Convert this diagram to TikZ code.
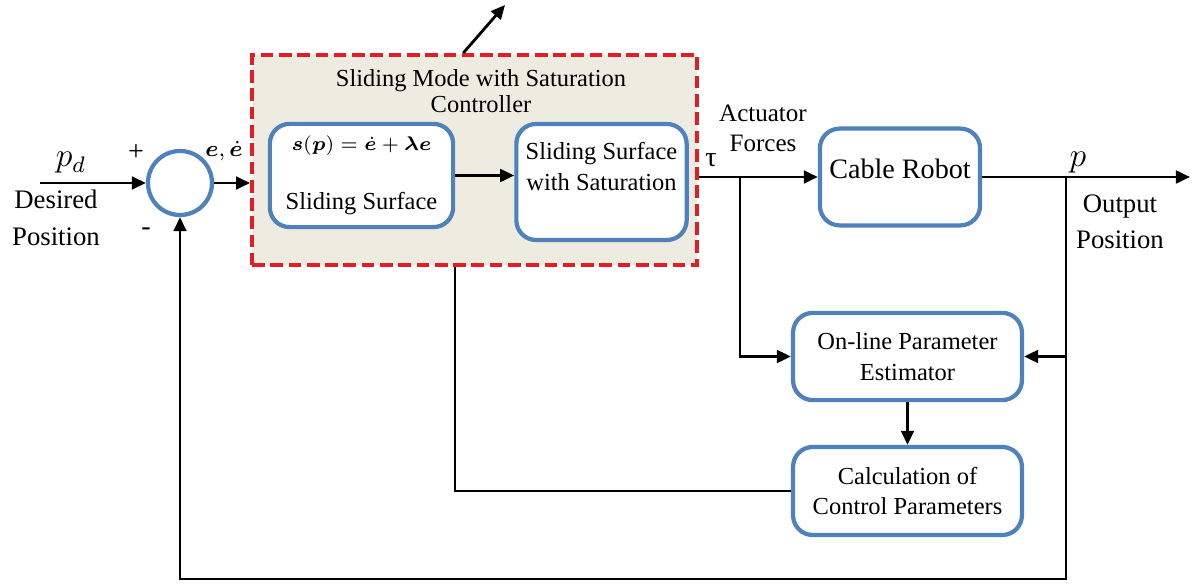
\documentclass[tikz,border=0pt]{standalone}
\usepackage{fontspec}
\setmainfont{Liberation Serif}
\usepackage{amsmath,bm}
\usetikzlibrary{arrows.meta}
\definecolor{boxblue}{RGB}{79,129,189}
\definecolor{ctrlred}{RGB}{225,30,35}
\definecolor{ctrlfill}{RGB}{238,236,225}
\tikzset{
  blk/.style={draw=boxblue,line width=1.5pt,rounded corners=7pt,fill=white,align=center,
    font=\fontsize{8.7}{11}\selectfont},
  sig/.style={line width=1pt,-{Triangle[length=5pt,width=4.5pt]}},
  wire/.style={line width=1pt},
  lbl/.style={align=center,font=\fontsize{9.5}{13}\selectfont},
}
\begin{document}
\begin{tikzpicture}[x=0.0125cm,y=-0.0125cm]
  \useasboundingbox (0,0) rectangle (1198,584);
  % controller block
  \node[draw=ctrlred,fill=ctrlfill,line width=1.4pt,dash pattern=on 4.5pt off 2pt,
    minimum width=5.56cm,minimum height=2.625cm] (ctrl) at (474.5,160) {};
  \node[align=center,font=\fontsize{8.7}{9.5}\selectfont] (ctitle) at (481,91)
    {Sliding Mode with Saturation\\Controller};
  \node[blk,minimum width=2.29cm,minimum height=1.29cm] (surf) at (361.5,175.5)
    {{\fontsize{7.5}{9}\selectfont$\bm{s}(\bm{p})=\dot{\bm{e}}+\bm{\lambda}\bm{e}$}\\[10pt]Sliding Surface};
  \node[blk,minimum width=2.11cm,minimum height=1.45cm] (sat) at (601.5,182)
    {Sliding Surface\\with Saturation\\\mbox{}};
  % plant and estimation
  \node[blk,font=\fontsize{10}{12}\selectfont,minimum width=2cm,minimum height=1.21cm,
    text depth=6pt] (robot) at (900,177) {Cable Robot};
  \node[blk,minimum width=2.86cm,minimum height=1.09cm] (est) at (907.5,356.5) {On-line Parameter\\Estimator};
  \node[blk,minimum width=2.86cm,minimum height=1.1cm] (calc) at (907.5,491) {Calculation of\\Control Parameters};
  \node[draw=boxblue,line width=1.5pt,circle,minimum size=0.8cm] (sum) at (180,183) {};
  % labels
  \node[font=\fontsize{12}{12}\selectfont] (pd) at (71,163) {$p_d$};
  \node[lbl] (des) at (56,218) {Desired\\Position};
  \node[font=\fontsize{10}{10}\selectfont] (plus) at (136,153) {+};
  \node[font=\fontsize{10}{10}\selectfont] (minus) at (146,232) {-};
  \node[font=\fontsize{8}{10}\selectfont,inner sep=1pt] (err) at (224,151) {$\bm{e},\dot{\bm{e}}$};
  \node[font=\fontsize{10}{10}\selectfont] (tau) at (711,160) {τ};
  \node[align=center,font=\fontsize{8.9}{10.7}\selectfont] (act) at (763,128) {Actuator\\Forces};
  \node[font=\fontsize{13}{13}\selectfont] (pout) at (1078,163) {$p$};
  \node[lbl] (outp) at (1120,222) {Output\\Position};
  % points
  \coordinate (in) at (40,183);
  \coordinate (tb) at (740,177);
  \coordinate (yb) at (1066,177);
  \coordinate (out) at (1190,177);
  \coordinate (bot) at (0,579);
  \coordinate (tap) at (455,0);
  \coordinate (up) at (505,5);
  % connectors
  \draw[sig] (in) -- (sum);
  \draw[sig] (sum) -- (sum -| ctrl.west);
  \draw[sig] (surf.east) -- (surf.east -| sat.west);
  \draw[sig] (ctrl.east |- robot.west) -- (robot.west);
  \draw[sig] (robot.east) -- (out);
  \draw[sig] (tb) |- (est.west);
  \draw[sig] (yb |- est.east) -- (est.east);
  \draw[sig] (est) -- (calc);
  \draw[wire] (calc.west) -| (tap |- ctrl.south);
  \draw[sig] (yb) -- (yb |- bot) -- (sum |- bot) -- (sum.south);
  \draw[sig] ([xshift=-0.14cm]ctrl.north) -- (up);
\end{tikzpicture}
\end{document}
